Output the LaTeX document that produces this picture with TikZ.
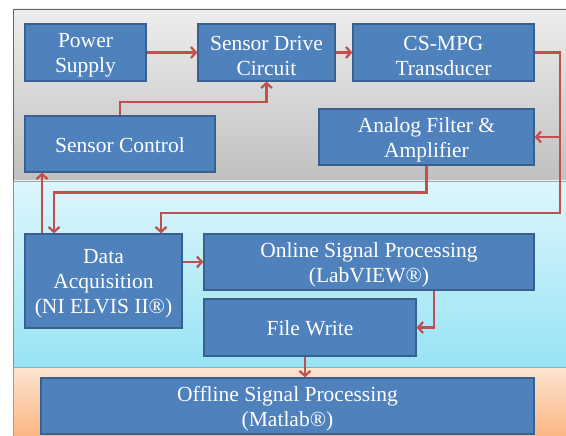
\documentclass[tikz,border=0pt]{standalone}
\usepackage{fontspec}
\setmainfont{Liberation Serif}
\usetikzlibrary{arrows.meta}
\definecolor{boxfill}{HTML}{4F81BD}
\definecolor{boxline}{HTML}{3A6090}
\definecolor{arrred}{HTML}{C0504D}
\definecolor{graytop}{HTML}{EDEDED}
\definecolor{graybot}{HTML}{C0C0C0}
\definecolor{cyantop}{HTML}{DDF6FC}
\definecolor{cyanbot}{HTML}{98E3F5}
\definecolor{orgtop}{HTML}{FDE4D2}
\definecolor{orgbot}{HTML}{FBB683}
\begin{document}
\begin{tikzpicture}[x=1pt,y=-1pt,
  box/.style={draw=boxline, line width=1.2pt, fill=boxfill, inner sep=0pt},
  txt/.style={text=white, inner sep=0pt, align=center, yshift=-3pt,
    font=\fontsize{21.5}{25}\selectfont},
  ln/.style={draw=arrred, line width=2.2pt},
  arr/.style={ln, -{Straight Barb[length=5pt,width=11pt,line width=2.2pt]}}]
\useasboundingbox (0,0) rectangle (566,436);
% background panels
\shade[top color=graytop, bottom color=graybot] (13,9) rectangle (566,181);
\shade[top color=cyantop, bottom color=cyanbot] (13,181) rectangle (566,367);
\shade[top color=orgtop, bottom color=orgbot] (13,367) rectangle (566,436);
\draw[black!60, line width=0.8pt] (566,9) -- (13,9) -- (13,181);
\draw[black!35, line width=0.6pt] (13,181) -- (566,181);
\draw[cyanbot!70!black, line width=0.6pt] (13,181) -- (13,367);
\draw[cyanbot!80!black, line width=0.8pt] (13,367) -- (566,367);
\draw[orgbot!80!black, line width=0.6pt] (13,367) -- (13,436);
% boxes
\node[box, minimum width=121, minimum height=57, label={[txt]center:{Power\\Supply}}] (ps) at (85.5,52.5) {};
\node[box, minimum width=137, minimum height=57, label={[txt]center:{Sensor Drive\\Circuit}}] (sd) at (266.5,52.5) {};
\node[box, minimum width=181, minimum height=57, label={[txt]center:{CS-MPG\\Transducer}}] (cs) at (443.5,52.5) {};
\node[box, minimum width=190, minimum height=56, label={[txt,yshift=2pt]center:{Sensor Control}}] (sc) at (120,144) {};
\node[box, minimum width=215, minimum height=56, label={[txt]center:{Analog Filter \&\\Amplifier}}] (af) at (426.5,137) {};
\node[box, minimum width=157, minimum height=94, label={[txt]center:{Data\\Acquisition\\(NI ELVIS II®)}}] (da) at (103.5,281) {};
\node[box, minimum width=330, minimum height=56, label={[txt]center:{Online Signal Processing\\(LabVIEW®)}}] (ol) at (369,262) {};
\node[box, minimum width=212, minimum height=57, label={[txt,yshift=2pt]center:{File Write}}] (fw) at (310,327.5) {};
\node[box, minimum width=493, minimum height=56, label={[txt]center:{Offline Signal Processing\\(Matlab®)}}] (of) at (287.5,406) {};
% connectors
\draw[arr] (ps.east) -- (sd.west);
\draw[arr] (sd.east) -- (cs.west);
\draw[arr] (cs.east) -- ++(25,0) |- (af.east);
\draw[arr] (cs.east) -- ++(25,0) -- ++(0,160.5) -| ([xshift=57.5pt]da.north);
\draw[arr] (af.south) -- ++(0,27) -| ([xshift=-49.5pt]da.north);
\draw[arr] ([xshift=-61.5pt]da.north) -- ([xshift=-78pt]sc.south);
\draw[arr] (sc.north) -- ++(0,-13) -| (sd.south);
\draw[arr] (da.east |- ol.west) -- (ol.west);
\draw[arr] ([xshift=65pt]ol.south) |- (fw.east);
\draw[arr] ([xshift=-5pt]fw.south) -- ([xshift=-5pt]fw.south |- of.north);
\end{tikzpicture}
\end{document}
